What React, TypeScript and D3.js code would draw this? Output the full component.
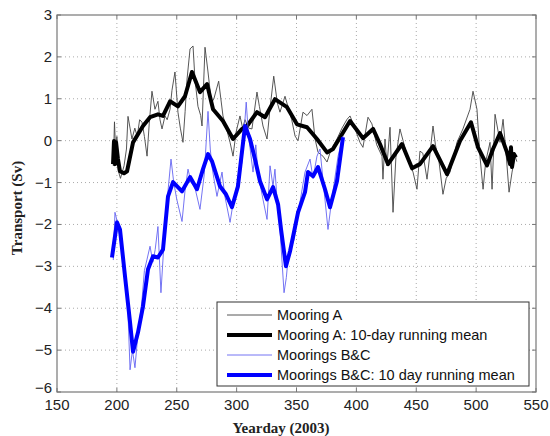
import React from 'react';
import * as d3 from 'd3';

// axis ticks
const xTicks = [150, 200, 250, 300, 350, 400, 450, 500, 550];
const yTicks = [-6, -5, -4, -3, -2, -1, 0, 1, 2, 3];

// Mooring A, raw (yearday, Sv)
const rawADays = [197, 198, 199, 200, 201, 203, 204, 206, 208, 209.3, 211, 212.6, 215, 217, 219, 221, 223, 225.2, 227, 229.3, 231.8, 234.3, 236, 237.7, 240.2, 242, 244.4, 246, 248.5, 251, 253, 255.2, 257, 258.6, 261.1, 263.6, 265.2, 267.7, 270, 271.1, 273.6, 276.1, 279, 281, 285, 288.6, 290.5, 294.5, 297, 299.5, 302.8, 305, 307, 310, 312.8, 317, 319, 322, 325.4, 328, 331, 334, 336.2, 340.4, 343, 346, 348.8, 351.3, 355.4, 358.8, 362.9, 365.5, 368, 372.1, 375.5, 379, 383.8, 388, 392.2, 394.7, 398, 403, 405.5, 409.7, 413, 417, 421.4, 422.2, 423.9, 425.5, 428.1, 430.6, 433, 436.4, 439, 443.1, 447.3, 450.6, 453.1, 455.5, 459, 461.5, 464, 466, 469, 472.3, 475, 478.2, 484, 489, 494.9, 497.4, 500.7, 503.2, 505.8, 508, 511.6, 513.3, 515.8, 520, 522.5, 525, 527.5, 530, 532.5, 534];
const rawAVals = [-0.6, 0.45, -0.3, 0.1, -0.7, -0.9, -0.8, -0.6, -0.2, 0.58, 0.3, 0.04, 0.3, 0.1, 0.5, 0.44, 0.1, -0.37, 0.4, 1.18, 0.75, 0.94, 0.5, 0.28, 0.59, 0.5, 0.75, 1.2, 1.64, 0.68, 0.3, -0.04, 0.7, 1.47, 2.19, 2.26, 1.47, 0.82, 0.6, 0.35, 2.23, 1.64, 0.9, 1.0, 1.42, 0.59, 0.4, -0.04, -0.37, 0.2, 0.59, 0.3, 0.5, 0.3, 0.28, 1.16, 0.82, 0.35, 0.04, 0.8, 1.54, 0.9, 0.68, 1.06, 0.8, 0.5, 0.11, 0.0, 0.68, 0.6, 0.75, 0.04, -0.28, -0.37, -0.51, -0.2, 0.04, 0.3, 0.51, 0.59, 0.35, -0.04, -0.16, 0.56, 0.4, -0.1, -0.37, -0.92, 0.04, -0.6, 0.32, -1.71, -0.4, 0.28, 0.0, -0.44, -0.75, -1.16, -0.25, -0.3, -0.92, -0.3, 0.35, -0.1, -0.5, -1.28, -0.9, -0.75, -0.04, 0.28, 0.75, 1.18, 0.75, -0.37, -1.16, -0.5, -0.04, -1.16, 0.63, -0.04, 0.51, -0.3, -1.23, -0.75, -0.37, -0.5];

// Mooring A, 10-day running mean
const meanADays = [196.8, 197.6, 198.4, 199.3, 200.9, 202.6, 205.9, 208.5, 213.5, 221.8, 227.7, 234.3, 238.5, 244.4, 251, 256.9, 262.7, 269.4, 275.3, 280.3, 288.6, 297, 304.5, 308.7, 317, 323.7, 332, 342.1, 350.4, 358.8, 367.1, 375.5, 380.5, 394.7, 405.5, 413.9, 419.7, 426.4, 438.1, 446.5, 453.1, 464, 475.7, 486.5, 495.7, 501.6, 509.1, 514.1, 520, 525.8, 528.3, 529.1, 530, 531.6, 533.3];
const meanAVals = [-0.56, -0.01, -0.56, -0.04, -0.44, -0.73, -0.78, -0.73, -0.04, 0.35, 0.56, 0.63, 0.59, 0.94, 0.82, 1.06, 1.64, 1.16, 1.35, 0.75, 0.47, 0.04, 0.28, 0.35, 0.68, 0.56, 0.99, 0.8, 0.39, 0.32, 0.04, -0.28, -0.2, 0.47, 0.06, 0.28, -0.08, -0.56, -0.08, -0.66, -0.56, -0.13, -0.8, -0.01, 0.44, -0.16, -0.59, -0.2, 0.18, -0.28, -0.56, -0.16, -0.63, -0.32, -0.4];

// Moorings B&C, raw
const rawBCDays = [197, 198.4, 200, 202.6, 205, 207, 209, 211, 213, 215.1, 217, 219, 221, 223, 225.2, 227.7, 230, 232, 234.3, 236.8, 239, 242.7, 245.2, 247.5, 250, 254.4, 256.9, 259.4, 262, 265, 269.4, 273, 276.1, 278, 279.4, 281, 283.6, 287.8, 290, 294.5, 297, 300, 304.5, 308, 310, 313.7, 316, 318, 322, 325.4, 327.9, 330.4, 332, 334, 336.2, 339.6, 341.5, 343, 345, 348, 352.9, 357.1, 361.3, 363.8, 367.1, 369.6, 372, 376.3, 379, 384.7, 388.8];
const rawBCVals = [-2.85, -1.71, -1.9, -2.3, -2.9, -3.4, -3.9, -5.47, -5.0, -5.42, -4.8, -4.3, -3.8, -3.1, -2.83, -2.52, -2.9, -2.6, -2.05, -3.63, -2.6, -1.2, -0.44, -1.0, -1.4, -1.93, -1.2, -0.68, -1.0, -1.1, -1.64, -0.8, 0.7, -0.2, -0.61, -0.9, -1.33, -0.75, -1.3, -1.95, -1.5, -1.1, -0.51, 0.92, 0.1, -0.75, -0.1, -0.8, -1.4, -1.88, -0.6, -1.09, -0.68, -1.5, -2.12, -3.63, -3.27, -2.8, -2.6, -2.36, -1.47, -0.75, -0.44, -0.9, -0.37, -0.2, -0.9, -2.12, -1.5, -0.37, 0.11];

// Moorings B&C, 10 day running mean
const meanBCDays = [195.9, 200.1, 202.6, 206.8, 211, 213.5, 217.6, 221.8, 226, 230.2, 234.3, 238.5, 242.7, 246.9, 254.4, 261.1, 266.9, 271.9, 276.1, 279.4, 286.1, 291.1, 296.1, 301.1, 307, 311.2, 315.3, 319.5, 325.4, 330.4, 334.6, 337.1, 341.2, 344.6, 351.3, 357.1, 359.6, 363.8, 368, 373.8, 378, 383.8, 388.8];
const meanBCVals = [-2.79, -1.95, -2.12, -3.24, -4.34, -5.04, -4.58, -3.96, -3.07, -2.76, -2.79, -2.6, -1.33, -0.99, -1.21, -0.87, -1.16, -0.68, -0.32, -0.49, -1.09, -1.28, -1.59, -1.09, 0.35, 0.04, -0.44, -0.97, -1.4, -1.11, -1.52, -2.12, -3.0, -2.64, -1.71, -1.23, -0.75, -0.85, -0.63, -1.16, -1.59, -0.97, 0.08];

const legendLabels = ['Mooring A', 'Mooring A: 10-day running mean', 'Moorings B&C', 'Moorings B&C: 10 day running mean'];

const W = 550;
const H = 436;
const margin = {left: 57, right: 14, top: 15, bottom: 44};

export default function App() {
    const x = d3.scaleLinear().domain([150, 550]).range([margin.left, W - margin.right]);
    const y = d3.scaleLinear().domain([-6, 3]).range([H - margin.bottom, margin.top]);

    const line = d3.line<[number, number]>()
        .x(d => x(d[0]))
        .y(d => y(d[1]));
    const zipped = (days: number[], vals: number[]) => days.map((d, i) => [d, vals[i]] as [number, number]);

    // thin and thick series, drawn in this order
    const series = [
        {data: zipped(rawADays, rawAVals), color: '#444', width: 0.9},
        {data: zipped(meanADays, meanAVals), color: '#000', width: 4},
        {data: zipped(rawBCDays, rawBCVals), color: '#6464f2', width: 0.9},
        {data: zipped(meanBCDays, meanBCVals), color: '#0000ff', width: 4},
    ];

    const x0 = margin.left, x1 = W - margin.right;
    const y0 = margin.top, y1 = H - margin.bottom;
    const tickFont = 'Liberation Sans, Arial, sans-serif';
    const titleFont = 'Liberation Serif, Times New Roman, serif';

    // legend
    const lg = {x: 217, y: 302, w: 312, h: 84, row: 20};

    return (
        <svg width={W} height={H} style={{position: 'absolute', left: 0, top: 0, background: '#fff'}}>
            <rect x={x0} y={y0} width={x1 - x0} height={y1 - y0} fill="#fff" />
            {/* grid */}
            {xTicks.slice(1, -1).map(t => (
                <line key={'gx' + t} x1={x(t)} x2={x(t)} y1={y0} y2={y1} stroke="#aaa" strokeWidth={1} strokeDasharray="1,3" />
            ))}
            {yTicks.slice(1, -1).map(t => (
                <line key={'gy' + t} x1={x0} x2={x1} y1={y(t)} y2={y(t)} stroke="#aaa" strokeWidth={1} strokeDasharray="1,3" />
            ))}
            {/* data */}
            <g clipPath="url(#plotclip)">
                {series.map((s, i) => (
                    <path key={i} d={line(s.data) || ''} fill="none" stroke={s.color} strokeWidth={s.width} strokeLinejoin="round" />
                ))}
            </g>
            <defs>
                <clipPath id="plotclip"><rect x={x0} y={y0} width={x1 - x0} height={y1 - y0} /></clipPath>
            </defs>
            {/* frame & ticks */}
            <rect x={x0} y={y0} width={x1 - x0} height={y1 - y0} fill="none" stroke="#777" strokeWidth={1.2} />
            {xTicks.map(t => (
                <g key={'tx' + t}>
                    <line x1={x(t)} x2={x(t)} y1={y1} y2={y1 - 4} stroke="#777" />
                    <line x1={x(t)} x2={x(t)} y1={y0} y2={y0 + 4} stroke="#777" />
                    <text x={x(t)} y={y1 + 18} textAnchor="middle" fontFamily={tickFont} fontSize={15} fill="#222">{t}</text>
                </g>
            ))}
            {yTicks.map(t => (
                <g key={'ty' + t}>
                    <line x1={x0} x2={x0 + 4} y1={y(t)} y2={y(t)} stroke="#777" />
                    <line x1={x1} x2={x1 - 4} y1={y(t)} y2={y(t)} stroke="#777" />
                    <text x={x0 - 5} y={y(t) + (t === -6 ? 1 : 5)} textAnchor="end" fontFamily={tickFont} fontSize={15} fill="#222">{t < 0 ? '\u2212' + Math.abs(t) : t}</text>
                </g>
            ))}
            {/* axis titles */}
            <text x={281} y={433} textAnchor="middle" fontFamily={titleFont} fontWeight="bold" fontSize={15} fill="#222">Yearday (2003)</text>
            <text transform="translate(22,208) rotate(-90)" textAnchor="middle" fontFamily={titleFont} fontWeight="bold" fontSize={15} fill="#222">Transport (Sv)</text>
            {/* legend */}
            <rect x={lg.x} y={lg.y} width={lg.w} height={lg.h} fill="#fff" stroke="#333" strokeWidth={1} />
            {legendLabels.map((lab, i) => {
                const cy = lg.y + 13 + i * lg.row;
                return (
                    <g key={lab}>
                        <line x1={lg.x + 10} x2={lg.x + 55} y1={cy} y2={cy} stroke={series[i].color} strokeWidth={series[i].width} />
                        <text x={lg.x + 60} y={cy + 5} fontFamily={tickFont} fontSize={14.5} fill="#111">{lab}</text>
                    </g>
                );
            })}
        </svg>
    );
}
